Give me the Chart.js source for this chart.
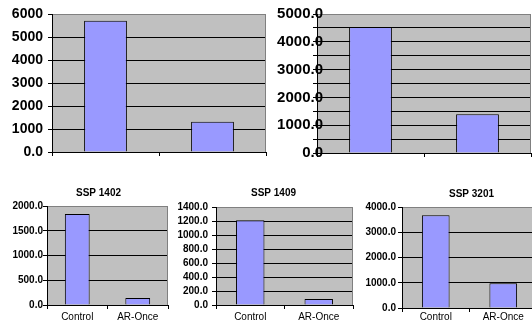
<!DOCTYPE html>
<html><head><meta charset="utf-8">
<script src="https://cdn.jsdelivr.net/npm/chart.js@4/dist/chart.umd.min.js"></script>
<style>
html,body{margin:0;padding:0;background:#fff;overflow:hidden;width:532px;height:325px;position:relative;}
canvas{position:absolute;}
</style></head><body>
<canvas id="c1" width="268" height="170" style="left:0;top:0"></canvas>
<canvas id="c2" width="264" height="170" style="left:268px;top:0"></canvas>
<canvas id="c3" width="197" height="145" style="left:0;top:180px"></canvas>
<canvas id="c4" width="207" height="145" style="left:170px;top:180px"></canvas>
<canvas id="c5" width="200" height="145" style="left:355px;top:180px"></canvas>
<script>
const categories = ['Control', 'AR-Once'];
const topLeftValues = [5710, 1320];
const topRightValues = [4530, 1390];
const ssp1402Values = [1840, 140];
const ssp1409Values = [1210, 85];
const ssp3201Values = [3670, 980];
const chartTitles = ['SSP 1402', 'SSP 1409', 'SSP 3201'];
const topLeftTicks = ['0.0', '1000', '2000', '3000', '4000', '5000', '6000'];
const topRightTicks = ['0.0', '1000.0', '2000.0', '3000.0', '4000.0', '5000.0'];
const ssp1402Ticks = ['0.0', '500.0', '1000.0', '1500.0', '2000.0'];
const ssp1409Ticks = ['0.0', '200.0', '400.0', '600.0', '800.0', '1000.0', '1200.0', '1400.0'];
const ssp3201Ticks = ['0.0', '1000.0', '2000.0', '3000.0', '4000.0'];

const FAMILY = "'Liberation Sans', Arial, sans-serif";

const plotBg = {
  id: 'plotBg',
  beforeDraw(chart) {
    const {ctx, chartArea: a} = chart;
    ctx.save();
    ctx.fillStyle = '#c0c0c0';
    ctx.fillRect(a.left, a.top, a.right - a.left, a.bottom - a.top);
    ctx.restore();
  },
  beforeDatasetsDraw(chart) {
    const {ctx, chartArea: a} = chart;
    const r = Math.round(a.right) - 0.5;
    ctx.save();
    ctx.strokeStyle = '#808080';
    ctx.lineWidth = 1;
    ctx.beginPath();
    ctx.moveTo(r, Math.round(a.top));
    ctx.lineTo(r, Math.round(a.bottom));
    ctx.stroke();
    ctx.restore();
  }
};

function build(id, values, o) {
  const tickLabels = o.tickLabels;
  const scales = {
    x: {
      grid: {offset: true, drawOnChartArea: false, drawTicks: true, tickLength: 4, color: '#000', tickColor: '#000'},
      border: {color: '#000', width: 1},
      ticks: {display: o.showX, color: '#000', font: {family: FAMILY, size: 10, lineHeight: 1.2}, padding: o.xPad || 0, maxRotation: 0, autoSkip: false},
      afterFit(s) { s.height = o.xHeight; }
    },
    y: {
      min: 0,
      max: o.max,
      ticks: {
        stepSize: o.step,
        autoSkip: false,
        color: '#000',
        font: {family: FAMILY, size: o.tickSize, weight: 'bold'},
        padding: o.yPad,
        callback: (v) => {
          const i = v / o.labelStep;
          return Math.abs(i - Math.round(i)) < 1e-6 ? tickLabels[Math.round(i)] : '';
        }
      },
      grid: {
        color: (c) => (c.tick && c.tick.value === o.max) ? '#808080' : '#000',
        tickColor: '#000',
        tickLength: 4,
        lineWidth: 1
      },
      border: {color: '#000', width: 1},
      afterFit(s) {
        s.width = o.yWidth;
        s._computeLabelArea = () => undefined;
      }
    }
  };
  if (o.rightGap) {
    scales.yGap = {
      type: 'linear', position: 'right', display: true,
      grid: {display: false, drawTicks: false}, border: {display: false},
      ticks: {display: false},
      afterFit(s) { s.width = o.rightGap; }
    };
  }
  return new Chart(document.getElementById(id), {
    type: 'bar',
    data: {
      labels: categories,
      datasets: [{
        data: values,
        backgroundColor: '#9999ff',
        borderColor: '#000',
        borderWidth: 1,
        categoryPercentage: 1,
        barPercentage: o.barPct
      }]
    },
    options: {
      responsive: false,
      animation: false,
      devicePixelRatio: 1,
      layout: {padding: {top: o.padTop, right: o.padRight, left: o.padLeft || 0, bottom: 0}},
      plugins: {
        legend: {display: false},
        tooltip: {enabled: false},
        title: {
          display: !!o.title,
          text: o.title || '',
          color: '#000',
          font: {family: FAMILY, size: 10, weight: 'bold', lineHeight: 1.2},
          padding: o.titlePad || {top: 0, bottom: 0}
        }
      },
      scales
    },
    plugins: [plotBg]
  });
}

build('c1', topLeftValues, {tickLabels: topLeftTicks, max: 6000, step: 1000, labelStep: 1000, tickSize: 14, yPad: 5, yWidth: 52, xHeight: 18, padTop: 14, padRight: 2, showX: false, barPct: 0.4});
build('c2', topRightValues, {tickLabels: topRightTicks, max: 5000, step: 500, labelStep: 1000, tickSize: 15, yPad: -10, yWidth: 49, xHeight: 17, padTop: 14, padRight: 1, showX: false, barPct: 0.4});
build('c3', ssp1402Values, {tickLabels: ssp1402Ticks, max: 2000, step: 500, labelStep: 500, tickSize: 10, yPad: 0, padLeft: 29, yWidth: 18, xHeight: 20, padTop: 0, padRight: 29, showX: true, xPad: 2, barPct: 0.41, title: chartTitles[0], titlePad: {top: 7, bottom: 7}});
build('c4', ssp1409Values, {tickLabels: ssp1409Ticks, max: 1400, step: 200, labelStep: 200, tickSize: 10, yPad: 4, padLeft: 24, yWidth: 22, xHeight: 20, padTop: 0, padRight: 24, showX: true, xPad: 2, barPct: 0.415, title: chartTitles[1], titlePad: {top: 7, bottom: 8}});
build('c5', ssp3201Values, {tickLabels: ssp3201Ticks, max: 4000, step: 1000, labelStep: 1000, tickSize: 10, yPad: 2, padLeft: 46, yWidth: 1, rightGap: 5, xHeight: 17, padTop: 0, padRight: 13, showX: true, xPad: -1, barPct: 0.41, title: chartTitles[2], titlePad: {top: 8, bottom: 7}});
</script>
</body></html>
